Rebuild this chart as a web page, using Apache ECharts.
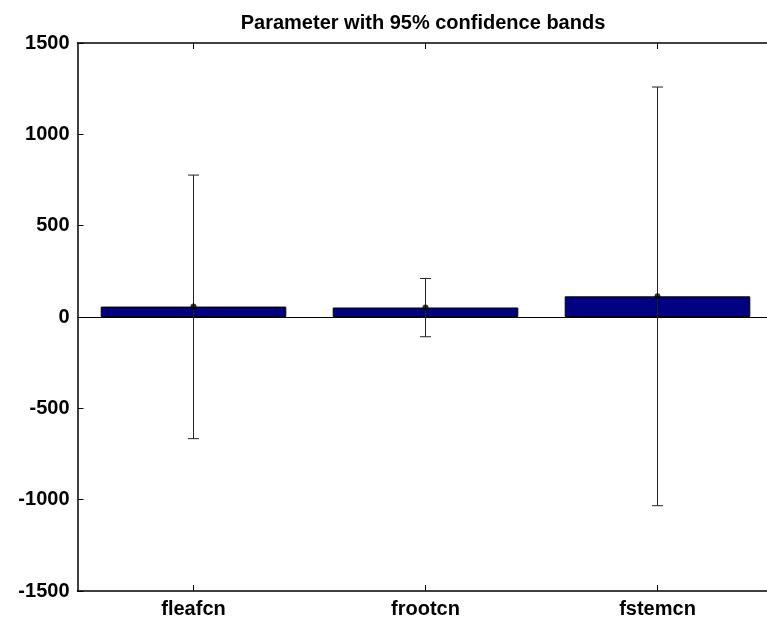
<!DOCTYPE html>
<html>
<head>
<meta charset="utf-8">
<script src="https://cdn.jsdelivr.net/npm/echarts@6/dist/echarts.min.js"></script>
<style>
  html, body { margin: 0; padding: 0; background: #fff; }
  #chart { width: 767px; height: 621px; }
</style>
</head>
<body>
<div id="chart"></div>
<script>
// Parameter estimates with their 95% confidence bands
const categories = ['fleafcn', 'frootcn', 'fstemcn'];
const estimates = [57, 52, 113];
const lowerBand = [-666, -108, -1033];
const upperBand = [777, 211, 1259];
const yTicks = [-1500, -1000, -500, 0, 500, 1000, 1500];

const FONT = '"Liberation Sans", Arial, Helvetica, sans-serif';

const chart = echarts.init(document.getElementById('chart'), null, { renderer: 'canvas' });

// Plot box: one slot per category; the box runs slightly past the canvas's right edge,
// so the visible x range stops a bit short of the last slot's end.
const GRID_LEFT = 77.5;
const SLOT_PX = 232;
const visibleWidth = 767 - GRID_LEFT;
const xMin = -0.5;
const xMax = xMin + visibleWidth / SLOT_PX;
const catIdx = categories.map((c, i) => i);

const barData = estimates.map((v, i) => [i, v]);
const errorData = categories.map((c, i) => [i, lowerBand[i], upperBand[i]]);

const xCommon = {
  type: 'value',
  min: xMin,
  max: xMax,
  splitLine: { show: false },
  axisLine: { show: true, onZero: false, lineStyle: { color: '#000', width: 1.5 } },
  axisTick: { show: true, inside: true, length: 6, customValues: catIdx, lineStyle: { color: '#000' } }
};

const option = {
  animation: false,
  backgroundColor: '#ffffff',
  title: {
    text: 'Parameter with 95% confidence bands',
    left: 418,
    textAlign: 'center',
    top: 8,
    textStyle: { fontFamily: FONT, fontSize: 20, fontWeight: 'bold', color: '#000' }
  },
  grid: { left: GRID_LEFT, top: 43, right: 0, height: 548, containLabel: false },
  xAxis: [
    Object.assign({}, xCommon, {
      position: 'bottom',
      axisLabel: {
        margin: 8, fontFamily: FONT, fontSize: 20, fontWeight: 'bold', color: '#000',
        customValues: catIdx,
        formatter: (v) => categories[Math.round(v)] || ''
      }
    }),
    Object.assign({}, xCommon, {
      position: 'top',
      axisLabel: { show: false }
    })
  ],
  yAxis: {
    type: 'value',
    min: yTicks[0],
    max: yTicks[yTicks.length - 1],
    interval: 500,
    axisLine: { show: true, onZero: false, lineStyle: { color: '#000', width: 1.5 } },
    axisTick: { show: true, inside: true, length: 6, lineStyle: { color: '#000' } },
    axisLabel: {
      margin: 8, fontFamily: FONT, fontSize: 20, fontWeight: 'bold', color: '#000',
      formatter: (v) => String(v)
    },
    splitLine: { show: false }
  },
  series: [
    {
      type: 'bar',
      data: barData,
      barWidth: SLOT_PX * 0.8,
      itemStyle: { color: '#000080', borderColor: '#000', borderWidth: 1 },
      markLine: {
        silent: true,
        symbol: ['none', 'none'],
        label: { show: false },
        lineStyle: { color: '#000', width: 1, type: 'solid' },
        data: [{ yAxis: 0 }]
      },
      z: 2
    },
    {
      type: 'custom',
      data: errorData,
      z: 3,
      renderItem: function (params, api) {
        const x = api.value(0);
        const lo = api.coord([x, api.value(1)]);
        const hi = api.coord([x, api.value(2)]);
        const half = 5.5;
        const style = { stroke: '#222', lineWidth: 1 };
        return {
          type: 'group',
          children: [
            { type: 'line', shape: { x1: lo[0], y1: lo[1], x2: hi[0], y2: hi[1] }, style: style },
            { type: 'line', shape: { x1: lo[0] - half, y1: lo[1], x2: lo[0] + half, y2: lo[1] }, style: style },
            { type: 'line', shape: { x1: hi[0] - half, y1: hi[1], x2: hi[0] + half, y2: hi[1] }, style: style }
          ]
        };
      }
    },
    {
      type: 'scatter',
      data: barData,
      symbol: 'circle',
      symbolSize: 6,
      itemStyle: { color: '#000' },
      z: 4
    }
  ]
};

chart.setOption(option);
</script>
</body>
</html>
